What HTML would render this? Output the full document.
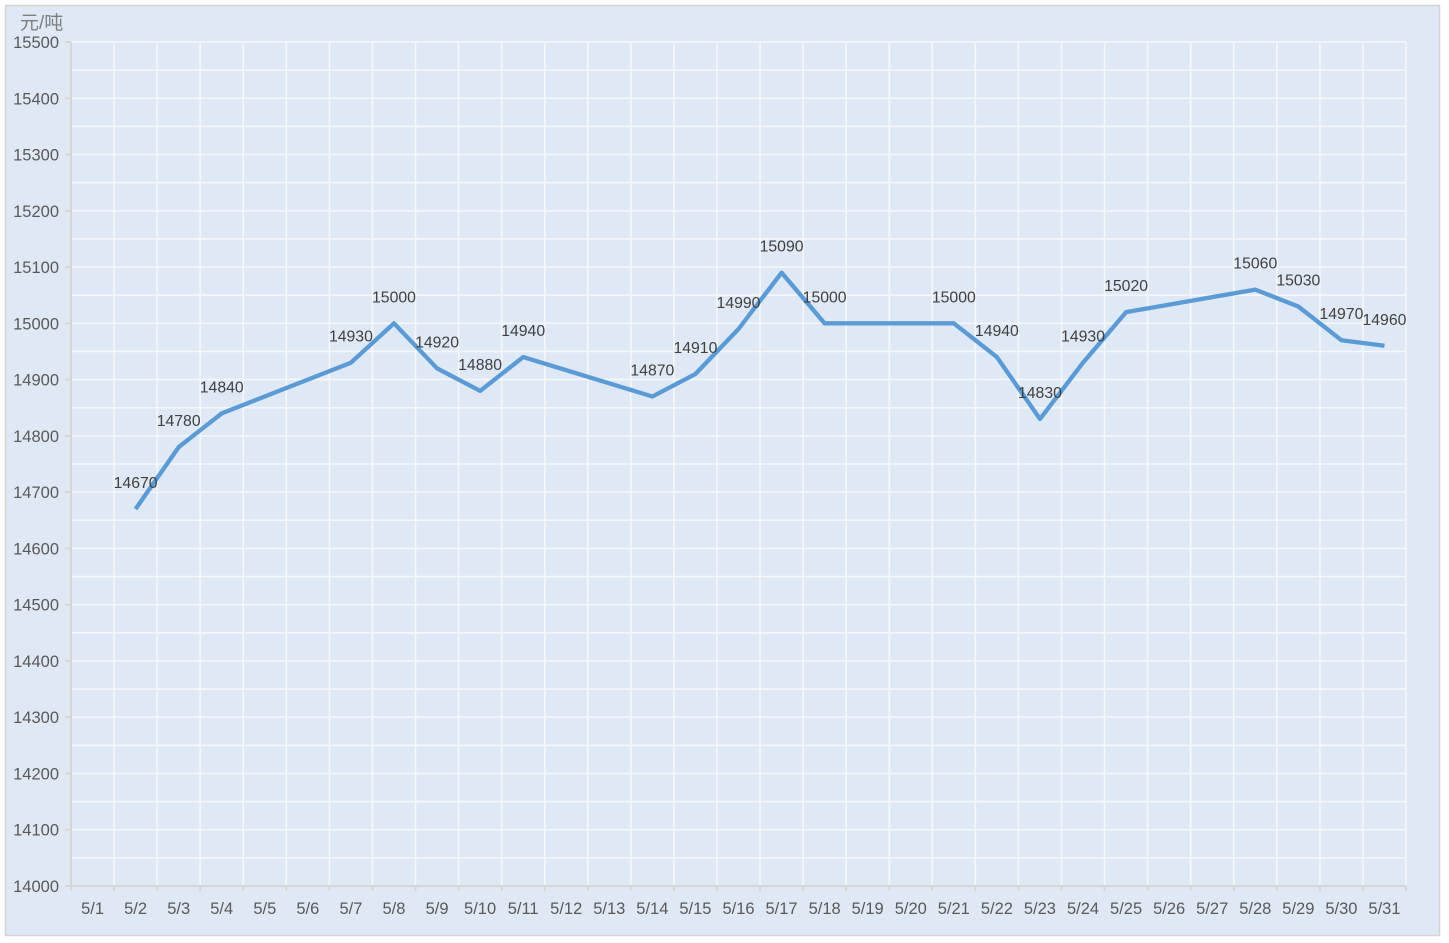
<!DOCTYPE html>
<html><head><meta charset="utf-8">
<style>
html,body{margin:0;padding:0;background:#fff;}
svg{display:block;}
text{font-family:"Liberation Sans","Noto Sans CJK SC",sans-serif;}
</style></head>
<body>
<svg width="1449" height="943" viewBox="0 0 1449 943" xmlns="http://www.w3.org/2000/svg">
<rect x="5.5" y="5.5" width="1434" height="930" fill="#dee9f5" stroke="#d4d4d4" stroke-width="1.5"/>
<g id="grid" stroke="#f4f7fb" stroke-width="1.6"></g>
<g id="axes"></g>
<g id="labels" font-size="16.5" fill="#595959"></g>
<text x="20" y="29" font-size="19" fill="#7f7f7f">元/吨</text>
<polyline id="line" fill="none" stroke="#5b9bd5" stroke-width="4.3" stroke-linejoin="round" stroke-linecap="butt"/>
<g id="dl" font-size="15.8" fill="#404040" text-anchor="middle"></g>
</svg>
<script>
var ns="http://www.w3.org/2000/svg";
var L=71,R=1406,T=42,B=886;
var cw=(R-L)/31;
function Y(v){return B-(v-14000)*(B-T)/1500;}
function el(tag,attrs,parent,txt){var e=document.createElementNS(ns,tag);for(var k in attrs)e.setAttribute(k,attrs[k]);if(txt!==undefined)e.textContent=txt;parent.appendChild(e);return e;}
var grid=document.getElementById('grid'),axes=document.getElementById('axes'),lab=document.getElementById('labels'),dl=document.getElementById('dl');
for(var v=14050;v<=15500;v+=50){var y=Y(v);el('line',{x1:L,x2:R,y1:y,y2:y},grid);}
for(var k=1;k<=31;k++){var x=L+cw*k;el('line',{x1:x,x2:x,y1:T,y2:B},grid);}
el('line',{x1:L,x2:L,y1:T,y2:B,stroke:'#d6d6d6','stroke-width':2},axes);
el('line',{x1:L,x2:R,y1:B,y2:B,stroke:'#d6d6d6','stroke-width':2},axes);
for(var v=14000;v<=15500;v+=100){var y=Y(v);el('line',{x1:65,x2:L,y1:y,y2:y,stroke:'#d6d6d6','stroke-width':2},axes);
 el('text',{x:59,y:y+6,'text-anchor':'end'},lab,String(v));}
for(var k=0;k<=31;k++){var x=L+cw*k;el('line',{x1:x,x2:x,y1:B,y2:B+5,stroke:'#d6d6d6','stroke-width':2},axes);}
for(var i=0;i<31;i++){var x=L+cw*(i+0.5);el('text',{x:x,y:914,'text-anchor':'middle'},lab,'5/'+(i+1));}
var data={2:14670,3:14780,4:14840,7:14930,8:15000,9:14920,10:14880,11:14940,14:14870,15:14910,16:14990,17:15090,18:15000,21:15000,22:14940,23:14830,24:14930,25:15020,28:15060,29:15030,30:14970,31:14960};
var pts=[];
for(var d=1;d<=31;d++){if(data[d]!==undefined){var x=L+cw*(d-0.5),y=Y(data[d]);pts.push(x.toFixed(1)+','+y.toFixed(1));
 el('text',{x:x,y:y-21},dl,String(data[d]));}}
document.getElementById('line').setAttribute('points',pts.join(' '));
</script>
</body></html>
